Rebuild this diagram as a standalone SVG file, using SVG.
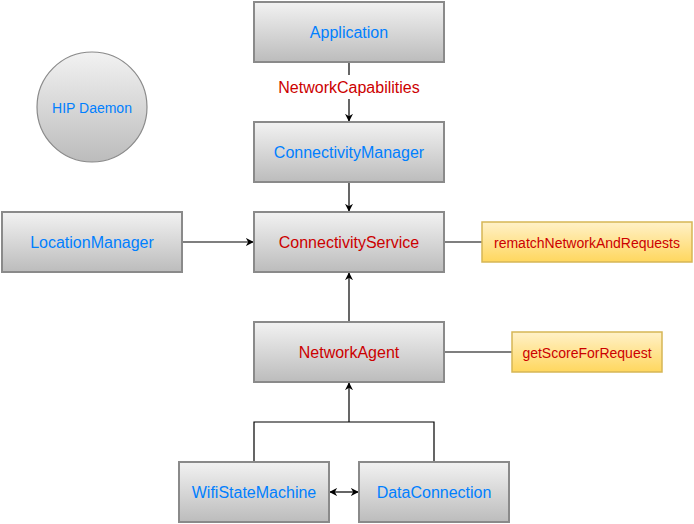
<svg xmlns="http://www.w3.org/2000/svg" width="694" height="524" viewBox="0 0 694 524">
<style>
.node{fill:url(#g);stroke:#8a8a8a;stroke-width:2}
.note{fill:url(#y);stroke:#d6b656;stroke-width:1.5}
.t{font-family:"Liberation Sans",Arial,sans-serif;font-size:16px;text-anchor:middle;dominant-baseline:central}
.b{fill:#007fff}
.r{fill:#cc0000}
.s{font-size:14px}
.c{fill:none;stroke:#000;stroke-width:1.2}
</style>
<defs>
<linearGradient id="g" x1="0" y1="0" x2="0" y2="1"><stop offset="0" stop-color="#f2f2f2"/><stop offset="1" stop-color="#bcbcbc"/></linearGradient>
<linearGradient id="y" x1="0" y1="0" x2="0" y2="1"><stop offset="0" stop-color="#fff1c8"/><stop offset="1" stop-color="#ffd75e"/></linearGradient>
<marker id="a" viewBox="0 0 10 10" refX="9" refY="5" markerWidth="8" markerHeight="8" markerUnits="userSpaceOnUse" orient="auto-start-reverse"><path d="M0,0 L10,5 L0,10 L3,5 z" fill="#000"/></marker>
</defs>
<rect width="694" height="524" fill="#fff"/>
<g id="connectors">
<line class="c" x1="349" y1="62" x2="349" y2="75"/>
<line class="c" x1="349" y1="99" x2="349" y2="121" marker-end="url(#a)"/>
<line class="c" x1="349" y1="182" x2="349" y2="211" marker-end="url(#a)"/>
<line class="c" x1="182" y1="242" x2="253" y2="242" marker-end="url(#a)"/>
<line class="c" x1="349" y1="322" x2="349" y2="273" marker-end="url(#a)"/>
<line class="c" x1="444" y1="242" x2="482" y2="242"/>
<line class="c" x1="444" y1="352" x2="512" y2="352"/>
<polyline class="c" points="254,462 254,422 434,422 434,462"/>
<line class="c" x1="349" y1="422" x2="349" y2="383" marker-end="url(#a)"/>
<line class="c" x1="330" y1="492" x2="358" y2="492" marker-start="url(#a)" marker-end="url(#a)"/>
<text class="t r" x="349" y="87">NetworkCapabilities</text>
</g>
<g id="hip"><circle cx="92" cy="107" r="55" fill="url(#g)" stroke="#8a8a8a" stroke-width="1.2"/><text class="t b s" x="92" y="108">HIP Daemon</text></g>
<g id="application"><rect class="node" x="254" y="2" width="190" height="60"/><text class="t b" x="349" y="32">Application</text></g>
<g id="connectivityManager"><rect class="node" x="254" y="122" width="190" height="60"/><text class="t b" x="349" y="152">ConnectivityManager</text></g>
<g id="connectivityService"><rect class="node" x="254" y="212" width="190" height="60"/><text class="t r" x="349" y="242">ConnectivityService</text></g>
<g id="locationManager"><rect class="node" x="2" y="212" width="180" height="60"/><text class="t b" x="92" y="242">LocationManager</text></g>
<g id="rematch"><rect class="note" x="482" y="222" width="210" height="40"/><text class="t r s" x="587" y="243">rematchNetworkAndRequests</text></g>
<g id="networkAgent"><rect class="node" x="254" y="322" width="190" height="60"/><text class="t r" x="349" y="352">NetworkAgent</text></g>
<g id="getScore"><rect class="note" x="512" y="332" width="150" height="40"/><text class="t r s" x="587" y="353">getScoreForRequest</text></g>
<g id="wifi"><rect class="node" x="179" y="462" width="150" height="60"/><text class="t b" x="254" y="492">WifiStateMachine</text></g>
<g id="data"><rect class="node" x="359" y="462" width="150" height="60"/><text class="t b" x="434" y="492">DataConnection</text></g>
</svg>
